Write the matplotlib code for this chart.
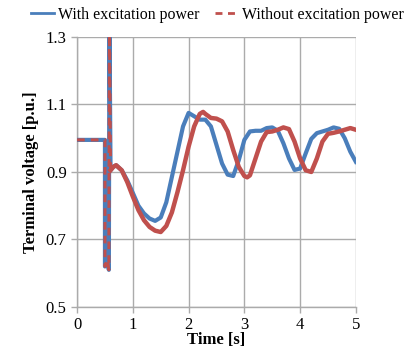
import matplotlib
matplotlib.use("Agg")
from matplotlib import pyplot as plt
from matplotlib.lines import Line2D

# Data
t_with = [0, 0.5, 0.5, 0.54, 0.57, 0.58, 0.6, 0.65, 0.7, 0.8, 0.9, 1.0, 1.1, 1.2, 1.3, 1.4,
          1.5, 1.6, 1.7, 1.8, 1.9, 2.0, 2.1, 2.2, 2.3, 2.4, 2.5, 2.6, 2.7, 2.8, 2.9,
          3.0, 3.1, 3.2, 3.3, 3.4, 3.5, 3.6, 3.7, 3.8, 3.9, 4.0, 4.1, 4.2, 4.3, 4.4,
          4.5, 4.6, 4.7, 4.8, 4.9, 5.0]
v_with = [0.995, 0.995, 0.62, 0.64, 0.61, 1.35, 0.905, 0.915, 0.92, 0.905, 0.875, 0.838, 0.80, 0.777, 0.762, 0.755,
          0.765, 0.81, 0.885, 0.96, 1.035, 1.075, 1.065, 1.055, 1.055, 1.035, 0.98, 0.925, 0.892, 0.888, 0.935,
          0.995, 1.02, 1.022, 1.022, 1.03, 1.032, 1.022, 0.985, 0.94, 0.906, 0.91, 0.955, 0.998, 1.015, 1.02,
          1.025, 1.032, 1.028, 1.0, 0.96, 0.93]

t_without = [0, 0.5, 0.5, 0.54, 0.57, 0.58, 0.6, 0.65, 0.7, 0.8, 0.9, 1.0, 1.1, 1.2, 1.3, 1.4,
             1.5, 1.6, 1.7, 1.8, 1.9, 2.0, 2.1, 2.2, 2.26, 2.3, 2.4, 2.5, 2.6, 2.7, 2.8, 2.9,
             3.0, 3.05, 3.1, 3.2, 3.3, 3.4, 3.5, 3.6, 3.7, 3.8, 3.9, 4.0, 4.1, 4.2, 4.3, 4.4,
             4.5, 4.6, 4.7, 4.8, 4.9, 5.0]
v_without = [0.995, 0.995, 0.62, 0.64, 0.61, 1.35, 0.905, 0.915, 0.92, 0.905, 0.87, 0.827, 0.787, 0.757, 0.737, 0.726,
             0.722, 0.74, 0.78, 0.84, 0.905, 0.975, 1.035, 1.072, 1.078, 1.072, 1.06, 1.058, 1.05, 1.02, 0.965, 0.915,
             0.888, 0.884, 0.89, 0.94, 0.99, 1.018, 1.02, 1.025, 1.032, 1.027, 0.99, 0.94, 0.905, 0.9, 0.94, 0.99,
             1.013, 1.016, 1.02, 1.025, 1.03, 1.025]

x_ticks = [0, 1, 2, 3, 4, 5]
y_ticks = [0.5, 0.7, 0.9, 1.1, 1.3]

blue = '#4a7ebb'
red = '#c0504d'
grid_col = '#ababab'
n_step = 7  # points belonging to the fault step/spike

plt.rcParams['font.family'] = 'serif'
plt.rcParams['font.serif'] = ['Liberation Serif']

fig = plt.figure(figsize=(4.1, 3.52), dpi=100)
ax = fig.add_axes([0.188, 0.128, 0.68, 0.767])

ax.plot(t_with, v_with, color=blue, lw=3.0, solid_joinstyle='round', zorder=3)
ax.plot(t_without[n_step - 1:], v_without[n_step - 1:], color=red, lw=3.2,
        solid_joinstyle='round', zorder=4)
ax.plot(t_without[:n_step], v_without[:n_step], color=red, lw=2.2,
        dashes=(2.5, 2), zorder=4)

ax.set_xlim(0, 5)
ax.set_ylim(0.5, 1.3)
ax.set_xticks(x_ticks)
ax.set_yticks(y_ticks)
ax.set_xticklabels([str(x) for x in x_ticks])
ax.set_yticklabels(['%.1f' % y for y in y_ticks])
ax.tick_params(labelsize=12, color=grid_col, length=4, width=1)

ax.grid(True, color=grid_col, lw=1)
ax.set_axisbelow(True)
for s in ['top', 'right']:
    ax.spines[s].set_visible(False)
for s in ['left', 'bottom']:
    ax.spines[s].set_color(grid_col)
    ax.spines[s].set_linewidth(1)

ax.set_xlabel('Time [s]', fontsize=12, fontweight='bold', labelpad=-1)
ax.set_ylabel('Terminal voltage [p.u.]', fontsize=12, fontweight='bold', labelpad=5)

handles = [Line2D([], [], color=blue, lw=2),
           Line2D([], [], color=red, lw=2, dashes=(2.5, 2))]
fig.legend(handles, ['With excitation power', 'Without excitation power'],
           loc='center', bbox_to_anchor=(0.53, 0.958), ncol=2, frameon=False,
           fontsize=11.4, handlelength=1.45, handletextpad=0.25, columnspacing=1.0,
           borderpad=0, borderaxespad=0)

fig.savefig('out.png', dpi=100)
